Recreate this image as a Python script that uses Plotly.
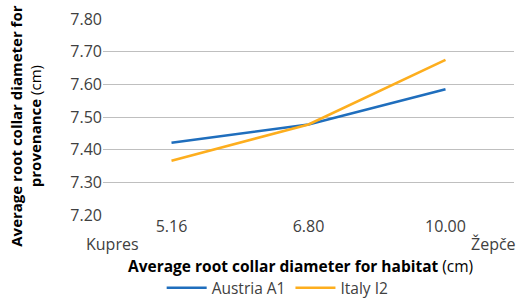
import plotly.graph_objects as go

categories = ["5.16", "6.80", "10.00"]
austria = [7.421, 7.477, 7.585]
italy = [7.366, 7.477, 7.675]
series_names = ["Austria A1", "Italy I2"]
y_ticks = [7.20, 7.30, 7.40, 7.50, 7.60, 7.70, 7.80]

FONT = "Open Sans"
fig = go.Figure()
fig.add_trace(go.Scatter(x=categories, y=austria, mode="lines", name=series_names[0],
                         line=dict(color="#1F6EBD", width=2.6)))
fig.add_trace(go.Scatter(x=categories, y=italy, mode="lines", name=series_names[1],
                         line=dict(color="#FDAE1E", width=2.6)))

fig.update_layout(
    width=519, height=299,
    margin=dict(l=103, r=5, t=19, b=84, autoexpand=False),
    plot_bgcolor="white", paper_bgcolor="white",
    font=dict(family=FONT, size=16, color="#404040"),
    showlegend=True,
    legend=dict(orientation="h", x=0.425, xanchor="center",
                yref="container", y=0.036, yanchor="middle",
                font=dict(size=15.5, color="#404040"), itemwidth=40, tracegroupgap=0,
                bgcolor="rgba(0,0,0,0)"),
    xaxis=dict(type="category", showgrid=False, zeroline=False, showline=False,
               ticks="", tickfont=dict(size=16, color="#404040"), range=[-0.5, 2.5]),
    yaxis=dict(range=[7.2, 7.8], tickvals=y_ticks, tickformat=".2f",
               showgrid=True, gridcolor="#BFBFBF", gridwidth=1.3, zeroline=False,
               showline=False, ticks="", tickfont=dict(size=16, color="#404040")),
)

fig.add_annotation(text="Kupres", xref="paper", yref="paper", x=0.022, y=-0.15,
                   xanchor="center", yanchor="middle", showarrow=False,
                   font=dict(size=16, color="#404040", family=FONT))
fig.add_annotation(text="Žepče", xref="paper", yref="paper", x=1.01, y=-0.15,
                   xanchor="right", yanchor="middle", showarrow=False,
                   font=dict(size=16, color="#404040", family=FONT))
fig.add_annotation(text="<b>Average root collar diameter for habitat</b> (cm)",
                   xref="paper", yref="paper", x=0.48, y=-0.262,
                   xanchor="center", yanchor="middle", showarrow=False,
                   font=dict(size=15.5, color="#000000", family=FONT))
fig.add_annotation(text="<b>Average root collar diameter for</b><br><b>provenance</b> (cm)",
                   xref="paper", yref="paper", x=-0.188, y=0.454,
                   xanchor="center", yanchor="middle", showarrow=False, textangle=-90,
                   font=dict(size=15, color="#000000", family=FONT))

fig.write_html("out.html", config={"displayModeBar": False},
               post_script="document.body.style.margin='0';document.body.style.padding='0';document.body.style.overflow='hidden';")
